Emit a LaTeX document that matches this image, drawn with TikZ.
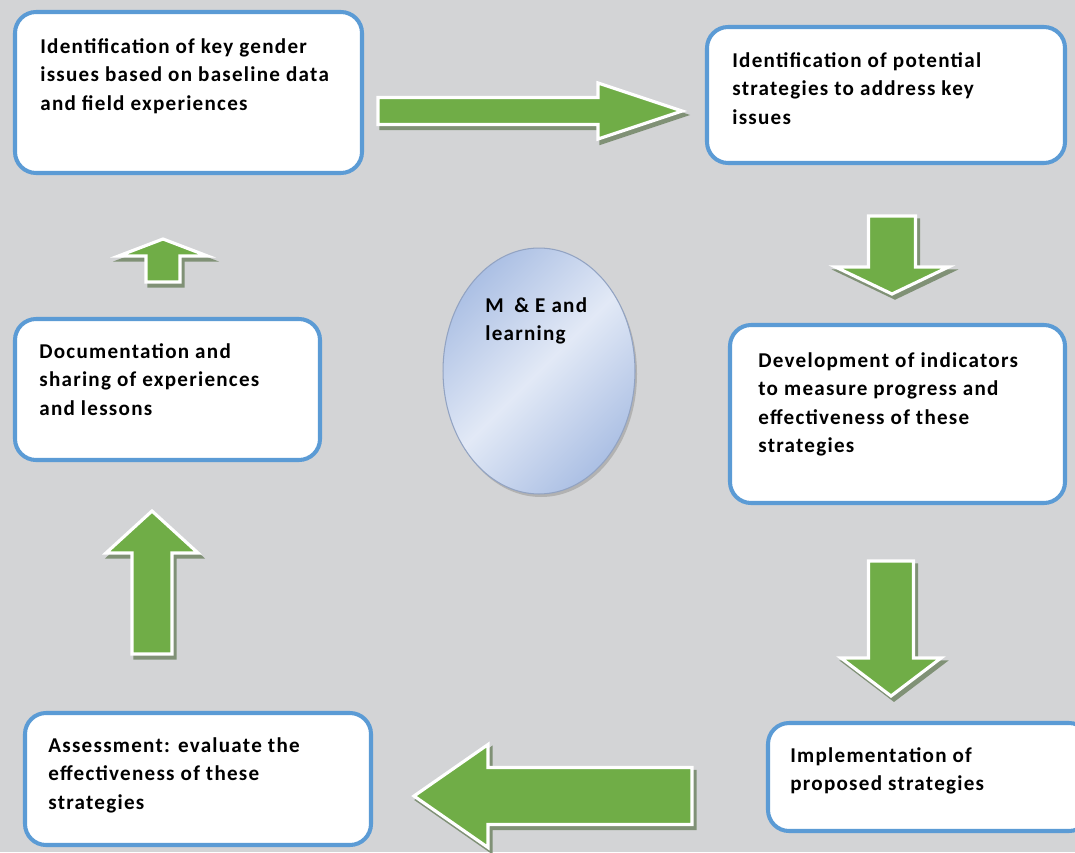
\documentclass[tikz,border=0pt]{standalone}
\usepackage{fontspec}
\setmainfont{Carlito}
\usetikzlibrary{positioning,fit,calc,shapes.geometric}
\definecolor{bggray}{RGB}{211,212,214}
\definecolor{boxblue}{RGB}{91,155,213}
\definecolor{arrgreen}{RGB}{112,173,71}
\definecolor{arrshade}{RGB}{128,145,118}
\definecolor{elllight}{RGB}{226,233,246}
\definecolor{elldark}{RGB}{172,192,228}
\newfontfamily\boxfont[LetterSpace=6]{Carlito}
\tikzset{
  gbox/.style={draw=boxblue,line width=2.3pt,fill=white,rounded corners=12pt,inner sep=0pt},
  btxt/.style={font=\boxfont\fontsize{12}{16.2}\selectfont\bfseries,align=left,inner sep=0pt,anchor=north west},
  garr/.style={fill=arrgreen,draw=white,line width=1.8pt,line join=miter},
  gshd/.style={fill=arrshade,draw=arrshade,line width=1.8pt,line join=miter},
  mell/.style={ellipse,draw=elldark!85!black,line width=0.6pt,inner sep=0pt,
    left color=elldark,right color=elldark,middle color=elllight,shading angle=45},
}
% block arrow: tail x, tail y, angle, length, shaft width, head width, head length
\newcommand{\garrow}[7]{%
  \begin{scope}[shift={(#1+3,#2+4)},rotate=#3]
    \draw[gshd] (0,{-#5/2}) -- ({#4-#7},{-#5/2}) -- ({#4-#7},{-#6/2}) -- (#4,0)
      -- ({#4-#7},{#6/2}) -- ({#4-#7},{#5/2}) -- (0,{#5/2}) -- cycle;
  \end{scope}
  \begin{scope}[shift={(#1,#2)},rotate=#3]
    \draw[garr] (0,{-#5/2}) -- ({#4-#7},{-#5/2}) -- ({#4-#7},{-#6/2}) -- (#4,0)
      -- ({#4-#7},{#6/2}) -- ({#4-#7},{#5/2}) -- (0,{#5/2}) -- cycle;
  \end{scope}}
\begin{document}
\begin{tikzpicture}[x=0.02cm,y=-0.02cm]
  \useasboundingbox (0,0) rectangle (1075,852);
  \fill[bggray] (0,0) rectangle (1075,852);
  % boxes
  \node[gbox,fit={(15,12) (362,173)}] (b1) {};
  \node[gbox,fit={(707,27) (1065,163)}] (b2) {};
  \node[gbox,fit={(730,325) (1065,503)}] (b3) {};
  \node[gbox,fit={(768,723) (1090,831)}] (b4) {};
  \node[gbox,fit={(25,713) (371,845)}] (b5) {};
  \node[gbox,fit={(15,319) (320,460)}] (b6) {};
  \node[btxt] (t1) at (40,38) {Identification of key gender\\issues based on baseline data\\and field experiences};
  \node[btxt] (t2) at (732,52) {Identification of potential\\strategies to address key\\issues};
  \node[btxt] (t3) at (758,352) {Development of indicators\\to measure progress and\\effectiveness of these\\strategies};
  \node[btxt] (t4) at (790,747) {Implementation of\\proposed strategies};
  \node[btxt] (t5) at (48,737) {Assessment: evaluate the\\effectiveness of these\\strategies};
  \node[btxt] (t6) at (39,343) {Documentation and\\sharing of experiences\\and lessons};
  % centre
  \fill[black!30] (541,374) ellipse [x radius=96, y radius=123];
  \node[mell,minimum width=3.84cm,minimum height=4.92cm] (me) at (539,371) {};
  \node[btxt] (tme) at (485,297) {M\enspace\& E and\\learning};
  % arrows
  \garrow{378}{111}{0}{304}{27}{56}{84}
  \garrow{892}{216}{-90}{78}{47}{113}{27}
  \garrow{891}{561}{-90}{135}{45}{100}{38}
  \garrow{692}{796}{180}{278}{57}{103}{74}
  \garrow{152}{654}{90}{143}{40}{92}{42}
  \garrow{163}{282}{90}{43}{34}{89}{17}
\end{tikzpicture}
\end{document}
